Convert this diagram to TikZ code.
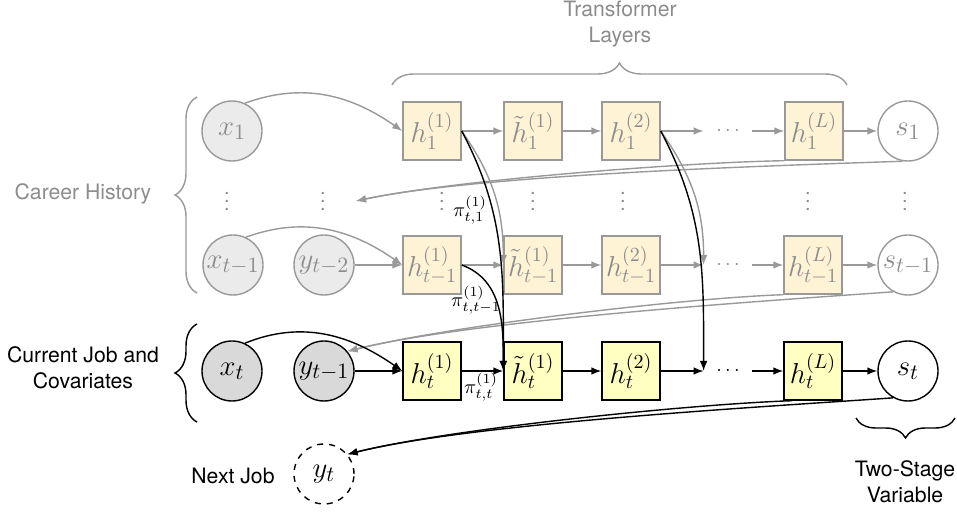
\documentclass[tikz,border=0pt]{standalone}
\usepackage[no-math]{fontspec}
\setmainfont{TeX Gyre Heros}
\usetikzlibrary{arrows.meta,decorations.pathreplacing}
\definecolor{lgray}{HTML}{999999}
\definecolor{tgray}{HTML}{8C8C8C}
\definecolor{histfill}{HTML}{FFF3D6}
\definecolor{curfill}{HTML}{FFFFC2}
\definecolor{hcfill}{HTML}{EBEBEB}
\definecolor{ccfill}{HTML}{D9D9D9}
\begin{document}
\begin{tikzpicture}[x=0.5pt,y=0.5pt,
  lbl/.style={font=\fontsize{10.6}{12.8}\selectfont, align=center, inner sep=0pt},
  arr/.style={-{Latex[length=5pt,width=3.8pt]}, line width=0.7pt},
  garr/.style={arr, draw=lgray},
  barr/.style={arr, draw=black},
  bx/.style={rectangle, minimum size=29pt, inner sep=0pt, line width=0.7pt, font=\Large},
  hbx/.style={bx, draw=lgray, fill=histfill, text=tgray},
  cbx/.style={bx, draw=black, fill=curfill},
  cir/.style={circle, minimum size=30pt, inner sep=0pt, line width=0.7pt, font=\fontsize{15.5}{18}\selectfont},
  hc/.style={cir, draw=lgray, fill=hcfill, text=tgray},
  cc/.style={cir, draw=black, fill=ccfill},
  hs/.style={cir, draw=lgray, fill=white, text=tgray},
  cs/.style={cir, draw=black, fill=white},
  dotn/.style={minimum width=24pt, minimum height=8pt, inner sep=0pt},
  vd/.style={inner sep=0pt, text=tgray},
  pil/.style={inner sep=0pt, font=\normalsize},
  brc/.style={decorate, decoration={brace, amplitude=11pt}, line width=0.7pt}
]
\path[use as bounding box] (0,0) rectangle (957,-512);

% labels and braces
\node[lbl, text=tgray] (tl) at (620,-24) {Transformer\\Layers};
\draw[brc, draw=lgray] (392,-85) -- (847,-85);
\node[lbl, text=tgray] (ch) at (83,-194) {Career History};
\draw[brc, draw=lgray] (197,-293) -- (197,-97);
\node[lbl] (cj) at (83,-368) {Current Job and\\Covariates};
\draw[brc] (197,-422) -- (197,-324);
\node[lbl] (nj) at (233,-476) {Next Job};
\draw[brc, decoration={amplitude=10pt}] (955,-418) -- (856,-418);
\node[lbl] (ts) at (905,-482) {Two-Stage\\Variable};

% row 1
\node[hc] (x1) at (232,-131) {$x_1$};
\node[hbx] (h11) at (432,-131) {$h^{(1)}_1$};
\node[hbx] (ht11) at (533,-131) {$\tilde{h}^{(1)}_1$};
\node[hbx] (h12) at (631,-131) {$h^{(2)}_1$};
\node[dotn, text=tgray] (d1) at (728,-131) {$\cdots$};
\node[hbx] (h1L) at (814,-131) {$h^{(L)}_1$};
\node[hs] (s1) at (908,-131) {$s_1$};

% vertical dots
\node[vd] (v1) at (227,-195) {$\vdots$};
\node[vd] (v2) at (323,-195) {$\vdots$};
\node[vd] (v3) at (442,-195) {$\vdots$};
\node[vd] (v4) at (533,-195) {$\vdots$};
\node[vd] (v5) at (623,-195) {$\vdots$};
\node[vd] (v6) at (808,-195) {$\vdots$};
\node[vd] (v7) at (905,-195) {$\vdots$};
\coordinate (p1) at (356,-201);

% row 3
\node[hc] (xa) at (233,-265) {$x_{t-1}$};
\node[hc] (ya) at (324,-265) {$y_{t-2}$};
\node[hbx] (ha1) at (432,-265) {$h^{(1)}_{t-1}$};
\node[hbx] (hta1) at (533,-265) {$\tilde{h}^{(1)}_{t-1}$};
\node[hbx] (ha2) at (631,-265) {$h^{(2)}_{t-1}$};
\node[dotn, text=tgray] (d3) at (728,-265) {$\cdots$};
\node[hbx] (haL) at (813,-265) {$h^{(L)}_{t-1}$};
\node[hs] (sa) at (908,-265) {$s_{t-1}$};

% row 4
\node[cc] (xb) at (232,-371) {$x_t$};
\node[cc] (yb) at (324,-371) {$y_{t-1}$};
\node[cbx] (hb1) at (432,-371) {$h^{(1)}_{t}$};
\node[cbx] (htb1) at (533,-371) {$\tilde{h}^{(1)}_{t}$};
\node[cbx] (hb2) at (631,-371) {$h^{(2)}_{t}$};
\node[dotn] (d4) at (728,-371) {$\cdots$};
\node[cbx] (hbL) at (813,-371) {$h^{(L)}_{t}$};
\node[cs] (sb) at (908,-371) {$s_t$};
\node[cs, dashed] (yt) at (324,-474) {$y_t$};

% pi labels
\node[pil] (pi1) at (470,-210) {$\pi^{(1)}_{t,1}$};
\node[pil] (pi2) at (476,-300) {$\pi^{(1)}_{t,t-1}$};
\node[pil] (pi3) at (481,-387) {$\pi^{(1)}_{t,t}$};

% row 1 edges
\draw[garr] (x1.65) to[out=20,in=145] (h11.west);
\draw[garr] (h11) -- (ht11);
\draw[garr] (ht11) -- (h12);
\draw[garr] (h12) -- (d1);
\draw[garr] (d1) -- (h1L);
\draw[garr] (h1L) -- (s1);
\draw[garr] (s1.260) to[out=182,in=12,looseness=0.6] (p1);
\draw[garr] (h1L.-135) to[out=181,in=12,looseness=0.6] (p1);

% row 3 edges
\draw[garr] (xa.65) to[out=20,in=145] (ha1.west);
\draw[garr] (ya) -- (ha1);
\draw[garr] (ha1) -- (hta1);
\draw[garr] (hta1) -- (ha2);
\draw[garr] (ha2) -- (d3);
\draw[garr] (d3) -- (haL);
\draw[garr] (haL) -- (sa);
\draw[garr] (sa.241) to[out=184,in=14,looseness=0.6] (yb.40);
\draw[garr] (haL.-135) to[out=182,in=14,looseness=0.6] (yb.40);

% row 4 edges
\draw[barr] (xb.65) to[out=22,in=145] (hb1.west);
\draw[barr] (yb) -- (hb1);
\draw[barr] (hb1) -- (htb1);
\draw[barr] (htb1) -- (hb2);
\draw[barr] (hb2) -- (d4);
\draw[barr] (d4) -- (hbL);
\draw[barr] (hbL) -- (sb);
\draw[barr] (sb.241) to[out=184,in=14,looseness=0.6] (yt.40);
\draw[barr] (hbL.-125) to[out=182,in=14,looseness=0.6] (yt.40);

% cross-row attention edges
\draw[garr] (h11.east) to[out=-55,in=90] (hta1.west);
\draw[barr] (h11.east) to[out=-62,in=90] (htb1.west);
\draw[garr] (h12.east) to[out=-55,in=90] (d3.west);
\draw[barr] (h12.east) to[out=-62,in=90] (d4.west);
\draw[barr] (ha1.east) to[out=-20,in=90] (htb1.west);
\end{tikzpicture}
\end{document}
